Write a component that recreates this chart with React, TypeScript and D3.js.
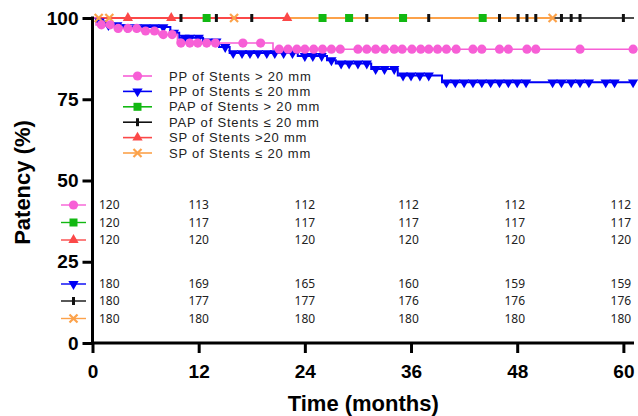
import React, { useRef, useEffect } from 'react';
import * as d3 from 'd3';

// --- Data (months, % patency) ---
const MONTH_TICKS = [0, 12, 24, 36, 48, 60];
const PATENCY_TICKS = [0, 25, 50, 75, 100];

// Kaplan-Meier steps: [time, value after the drop]
const ppGt20Steps = [[0, 100], [0.4, 97.9], [2.5, 96.8], [5.5, 96.0], [7.5, 94.9], [9.6, 92.3], [20.4, 90.4]];
const ppGt20Censor = [1.0, 2.0, 2.9, 4.0, 5.0, 6.0, 7.0, 8.0, 9.0, 10.0, 11.0, 11.9, 12.9, 13.9, 17.0, 19.0, 21.1, 22.1, 23.1, 24.0, 25.0, 26.0, 27.0, 28.0, 30.0, 31.0, 32.0, 33.0, 34.1, 35.0, 36.1, 37.1, 38.0, 39.0, 40.0, 41.1, 43.0, 44.0, 46.0, 47.0, 49.1, 50.1, 55.1, 61.1];

const ppLe20Steps = [[0, 100], [0.4, 98.9], [1.5, 97.8], [3.5, 97.2], [8.8, 95.5], [9.8, 93.9], [12.5, 92.8], [14.3, 91.1], [15.5, 89.2], [23.2, 88.3], [26.5, 87.0], [27.5, 86.0], [31.5, 84.3], [34.5, 82.3], [39.5, 80.2]];
const ppLe20Censor = [0.8, 1.8, 2.8, 3.9, 5.0, 6.0, 7.0, 8.0, 9.2, 10.4, 11.0, 12.0, 13.0, 14.0, 15.0, 15.9, 16.9, 17.8, 18.7, 19.7, 20.6, 21.6, 22.6, 24.0, 24.9, 25.9, 27.0, 28.1, 29.0, 30.0, 31.0, 32.0, 33.0, 34.1, 35.1, 36.0, 37.0, 38.0, 40.0, 41.0, 42.0, 43.0, 44.0, 45.0, 46.0, 47.0, 48.0, 49.0, 52.0, 53.0, 54.1, 55.1, 56.1, 58.0, 59.0, 61.1];

const papGt20Steps = [[0, 100]];
const papGt20Censor = [12.9, 26.0, 29.0, 35.1, 44.1];

const papLe20Steps = [[0, 100]];
const papLe20Censor = [10.0, 14.0, 18.0, 31.0, 38.0, 46.0, 48.1, 49.1, 50.1, 53.0, 54.1, 55.1, 60.0];

const spGt20Steps = [[0, 100]];
const spGt20Censor = [4.0, 8.9, 22.0];

const spLe20Steps = [[0, 100]];
const spLe20Censor = [0.7, 1.9, 16.0, 52.0];

// last follow-up time of each curve
const followUpEnd = { ppGt: 61.1, ppLe: 61.1, papGt: 44.1, papLe: 61.2, spGt: 22.0, spLe: 52.0 };

// numbers at risk at MONTH_TICKS
const riskPPgt = [120, 113, 112, 112, 112, 112];
const riskPAPgt = [120, 117, 117, 117, 117, 117];
const riskSPgt = [120, 120, 120, 120, 120, 120];
const riskPPle = [180, 169, 165, 160, 159, 159];
const riskPAPle = [180, 177, 177, 176, 176, 176];
const riskSPle = [180, 180, 180, 180, 180, 180];

const COLORS = {
  pink: '#f75fd6',
  blue: '#0000f5',
  green: '#12b812',
  black: '#111111',
  red: '#fb4848',
  orange: '#fca24a',
};

const series = [
  { key: 'papLe', label: 'PAP of Stents ≤ 20 mm', steps: papLe20Steps, censor: papLe20Censor, end: followUpEnd.papLe, color: COLORS.black, marker: 'tick', width: 1.6 },
  { key: 'papGt', label: 'PAP of Stents > 20 mm', steps: papGt20Steps, censor: papGt20Censor, end: followUpEnd.papGt, color: COLORS.green, marker: 'square', width: 1.8 },
  { key: 'ppLe', label: 'PP of Stents ≤ 20 mm', steps: ppLe20Steps, censor: ppLe20Censor, end: followUpEnd.ppLe, color: COLORS.blue, marker: 'down', width: 2 },
  { key: 'spLe', label: 'SP of Stents ≤ 20 mm', steps: spLe20Steps, censor: spLe20Censor, end: followUpEnd.spLe, color: COLORS.orange, marker: 'x', width: 1.8 },
  { key: 'spGt', label: 'SP of Stents >20 mm', steps: spGt20Steps, censor: spGt20Censor, end: followUpEnd.spGt, color: COLORS.red, marker: 'up', width: 1.8 },
  { key: 'ppGt', label: 'PP of Stents > 20 mm', steps: ppGt20Steps, censor: ppGt20Censor, end: followUpEnd.ppGt, color: COLORS.pink, marker: 'circle', width: 1.6 },
];

const legendOrder = ['ppGt', 'ppLe', 'papGt', 'papLe', 'spGt', 'spLe'];
const riskRows = [
  { key: 'ppGt', values: riskPPgt },
  { key: 'papGt', values: riskPAPgt },
  { key: 'spGt', values: riskSPgt },
  { key: 'ppLe', values: riskPPle },
  { key: 'papLe', values: riskPAPle },
  { key: 'spLe', values: riskSPle },
];

const stepValue = (steps, t) => {
  let v = steps[0][1];
  for (const s of steps) if (s[0] <= t) v = s[1];
  return v;
};

const drawMarker = (g, type, color, x, y) => {
  if (type === 'circle') {
    g.append('circle').attr('cx', x).attr('cy', y).attr('r', 4.6).attr('fill', color);
  } else if (type === 'down' || type === 'up') {
    g.append('path')
      .attr('d', d3.symbol().type(d3.symbolTriangle).size(46)())
      .attr('transform', `translate(${x},${y}) rotate(${type === 'down' ? 180 : 0})`)
      .attr('fill', color);
  } else if (type === 'square') {
    g.append('rect').attr('x', x - 4).attr('y', y - 4).attr('width', 8).attr('height', 8).attr('fill', color);
  } else if (type === 'tick') {
    g.append('rect').attr('x', x - 1.5).attr('y', y - 4).attr('width', 3).attr('height', 8).attr('fill', color);
  } else if (type === 'x') {
    const r = 4;
    g.append('path')
      .attr('d', `M${x - r},${y - r}L${x + r},${y + r}M${x - r},${y + r}L${x + r},${y - r}`)
      .attr('stroke', color)
      .attr('stroke-width', 2.2)
      .attr('fill', 'none');
  }
};

const KMChart = ({ width = 638, height = 416 }) => {
  const svgRef = useRef(null);

  useEffect(() => {
    const svg = d3.select(svgRef.current).html('');

    // --- Scales ---
    const x = d3.scaleLinear().domain([0, 61.2]).range([92.5, 634]);
    const y = d3.scaleLinear().domain([0, 100]).range([343, 18]);

    // --- Curves ---
    const line = d3.line().x(d => x(d[0])).y(d => y(d[1])).curve(d3.curveStepAfter);
    const curves = svg.append('g');
    series.forEach(s => {
      const pts = [...s.steps, [s.end, s.steps[s.steps.length - 1][1]]];
      curves.append('path')
        .attr('d', line(pts))
        .attr('fill', 'none')
        .attr('stroke', s.color)
        .attr('stroke-width', s.width);
    });

    // censor marks
    const marks = svg.append('g');
    series.forEach(s => {
      s.censor.forEach(t => drawMarker(marks, s.marker, s.color, x(t), y(stepValue(s.steps, t))));
    });

    // --- Axes ---
    const font = 'Liberation Sans, Arial, sans-serif';
    const yAxis = svg.append('g')
      .attr('transform', `translate(${x(0)},0)`)
      .call(d3.axisLeft(y).tickValues(PATENCY_TICKS).tickSize(10).tickPadding(4));
    const xAxis = svg.append('g')
      .attr('transform', `translate(0,${y(0)})`)
      .call(d3.axisBottom(x).tickValues(MONTH_TICKS).tickSize(10).tickPadding(12));
    [yAxis, xAxis].forEach(a => {
      a.select('.domain').remove();
      a.selectAll('line').attr('stroke', '#000').attr('stroke-width', 3);
      a.selectAll('text')
        .attr('fill', '#000')
        .style('font-family', font)
        .style('font-size', '19px')
        .style('font-weight', 'bold');
    });
    svg.append('line')
      .attr('x1', x(0)).attr('x2', x(0)).attr('y1', y(100) - 1.5).attr('y2', y(0) + 1.5)
      .attr('stroke', '#000').attr('stroke-width', 3);
    svg.append('line')
      .attr('x1', x(0) - 1.5).attr('x2', x(61.2)).attr('y1', y(0)).attr('y2', y(0))
      .attr('stroke', '#000').attr('stroke-width', 3);

    svg.append('text')
      .attr('transform', `translate(30,${(y(0) + y(100)) / 2 + 2}) rotate(-90)`)
      .attr('text-anchor', 'middle')
      .style('font-family', font).style('font-size', '22px').style('font-weight', 'bold')
      .text('Patency (%)');
    svg.append('text')
      .attr('x', (x(0) + x(61.2)) / 2)
      .attr('y', 411)
      .attr('text-anchor', 'middle')
      .style('font-family', font).style('font-size', '22px').style('font-weight', 'bold')
      .text('Time (months)');

    // --- Legend ---
    const byKey = Object.fromEntries(series.map(s => [s.key, s]));
    const legend = svg.append('g');
    legendOrder.forEach((k, i) => {
      const s = byKey[k];
      const ly = 76 + i * 15.4;
      legend.append('line').attr('x1', 123).attr('x2', 152).attr('y1', ly).attr('y2', ly)
        .attr('stroke', s.color).attr('stroke-width', 1.6);
      drawMarker(legend, s.marker, s.color, 137.5, ly);
      legend.append('text').attr('x', 169).attr('y', ly).attr('dy', '0.36em')
        .attr('fill', '#222')
        .style('font-family', font).style('font-size', '13px').style('letter-spacing', '0.8px')
        .text(s.label);
    });

    // --- Numbers at risk ---
    const rowY = [205, 222.5, 240, 284, 301, 318.5];
    const risk = svg.append('g');
    riskRows.forEach((r, i) => {
      const s = byKey[r.key];
      const ry = rowY[i];
      risk.append('line').attr('x1', 61).attr('x2', 86).attr('y1', ry).attr('y2', ry)
        .attr('stroke', s.color).attr('stroke-width', 1.4);
      drawMarker(risk, s.marker, s.color, 73.5, ry);
      r.values.forEach((v, j) => {
        const t = MONTH_TICKS[j];
        risk.append('text')
          .attr('x', t === 0 ? x(0) + 6.5 : x(t) - (t >= 36 ? 2.5 : 0))
          .attr('y', ry)
          .attr('dy', '0.35em')
          .attr('text-anchor', t === 0 ? 'start' : 'middle')
          .attr('fill', '#222')
          .style('font-family', 'Noto Sans, sans-serif')
          .style('font-size', '12px')
          .text(v);
      });
    });
  }, [width, height]);

  return <svg ref={svgRef} width={width} height={height} style={{ display: 'block', background: '#fff' }} />;
};

export default function App() {
  return (
    <div style={{ position: 'absolute', left: 0, top: 0 }}>
      <KMChart />
    </div>
  );
}
